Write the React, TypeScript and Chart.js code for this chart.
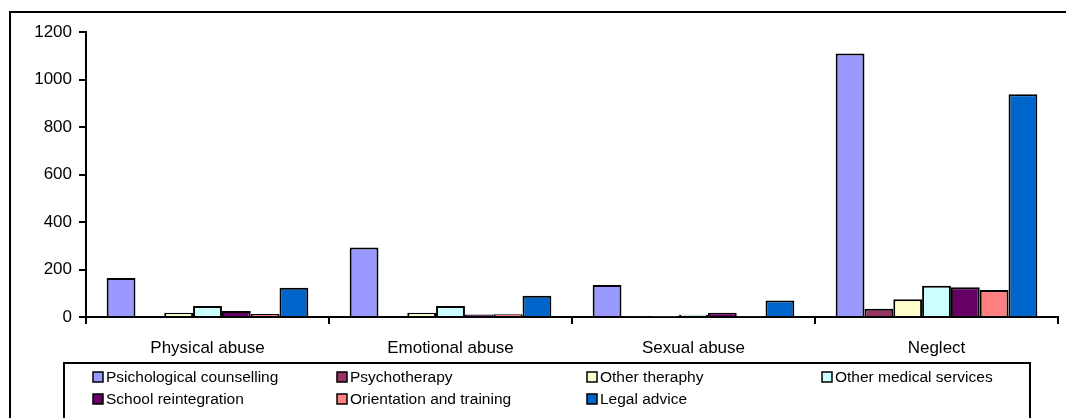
import React, { useEffect, useRef } from 'react';
import { Chart, registerables } from 'chart.js';

Chart.register(...registerables);

const categories = ['Physical abuse', 'Emotional abuse', 'Sexual abuse', 'Neglect'];

const seriesNames = [
  'Psichological counselling',
  'Psychotherapy',
  'Other theraphy',
  'Other medical services',
  'School reintegration',
  'Orientation and training',
  'Legal advice',
];

const psichologicalCounselling = [164, 293, 135, 1110];
const psychotherapy = [0, 0, 2, 35];
const otherTheraphy = [18, 18, 2, 75];
const otherMedicalServices = [46, 46, 10, 132];
const schoolReintegration = [25, 11, 18, 125];
const orientationAndTraining = [13, 12, 2, 114];
const legalAdvice = [123, 90, 69, 938];

const seriesValues = [
  psichologicalCounselling,
  psychotherapy,
  otherTheraphy,
  otherMedicalServices,
  schoolReintegration,
  orientationAndTraining,
  legalAdvice,
];

const seriesColors = ['#9999FF', '#993366', '#FFFFCC', '#CCFFFF', '#660066', '#FF8080', '#0066CC'];

const yMin = 0;
const yMax = 1200;
const yStep = 200;

const FONT = "'Liberation Sans', Arial, Helvetica, sans-serif";

const frameAndLegend = {
  id: 'frameAndLegend',
  afterDraw(chart: any) {
    const ctx = chart.ctx;
    ctx.save();
    // outer frame (extends beyond the right and bottom edges)
    ctx.strokeStyle = '#000';
    ctx.lineWidth = 2;
    ctx.strokeRect(10, 12, 1200, 600);

    // legend frame
    ctx.strokeRect(64, 363, 966, 100);

    const cols = [93, 337, 587, 822];
    const rows = [377, 399];
    const box = 10;
    ctx.font = `15.5px ${FONT}`;
    ctx.textBaseline = 'middle';
    ctx.textAlign = 'left';
    chart.data.datasets.forEach((ds: any, i: number) => {
      const c = i % 4;
      const r = Math.floor(i / 4);
      const x = cols[c];
      const y = rows[r];
      ctx.fillStyle = ds.backgroundColor;
      ctx.fillRect(x, y - box / 2, box, box);
      ctx.lineWidth = 1.5;
      ctx.strokeStyle = '#000';
      ctx.strokeRect(x, y - box / 2, box, box);
      ctx.fillStyle = '#000';
      ctx.fillText(ds.label, x + box + 3, y + 1);
    });
    ctx.restore();
  },
};

export default function App() {
  const canvasRef = useRef<HTMLCanvasElement | null>(null);

  useEffect(() => {
    const canvas = canvasRef.current;
    if (!canvas) return;
    const chart = new Chart(canvas, {
      type: 'bar',
      data: {
        labels: categories,
        datasets: seriesNames.map((name, i) => ({
          label: name,
          data: seriesValues[i],
          backgroundColor: seriesColors[i],
          borderColor: '#000',
          borderWidth: 2,
          categoryPercentage: 0.83,
          barPercentage: 1.0,
        })),
      },
      options: {
        responsive: false,
        animation: false,
        layout: { padding: { top: 32, right: 8, bottom: 56, left: 0 } },
        plugins: {
          legend: { display: false },
          tooltip: { enabled: false },
          title: { display: false },
        },
        scales: {
          x: {
            type: 'category',
            offset: true,
            grid: {
              offset: true,
              drawOnChartArea: false,
              drawTicks: true,
              tickLength: 7,
              color: '#000',
              lineWidth: 2,
            },
            border: { display: true, color: '#000', width: 2 },
            ticks: {
              color: '#000',
              font: { family: FONT, size: 17 },
              padding: 14,
              maxRotation: 0,
            },
            afterFit(scale: any) {
              scale.height = 45;
            },
          },
          y: {
            min: yMin,
            max: yMax,
            ticks: {
              stepSize: yStep,
              color: '#000',
              font: { family: FONT, size: 17 },
              padding: 7,
              callback: (v: any) => String(v),
            },
            grid: {
              drawOnChartArea: false,
              drawTicks: true,
              tickLength: 7,
              color: '#000',
              lineWidth: 2,
            },
            border: { display: true, color: '#000', width: 2 },
            afterFit(scale: any) {
              scale.width = 86;
            },
          },
        },
      },
      plugins: [frameAndLegend],
    });
    return () => chart.destroy();
  }, []);

  return (
    <div style={{ position: 'fixed', left: 0, top: 0, width: 1066, height: 418, background: '#fff' }}>
      <canvas ref={canvasRef} width={1066} height={418} style={{ display: 'block' }} />
    </div>
  );
}
